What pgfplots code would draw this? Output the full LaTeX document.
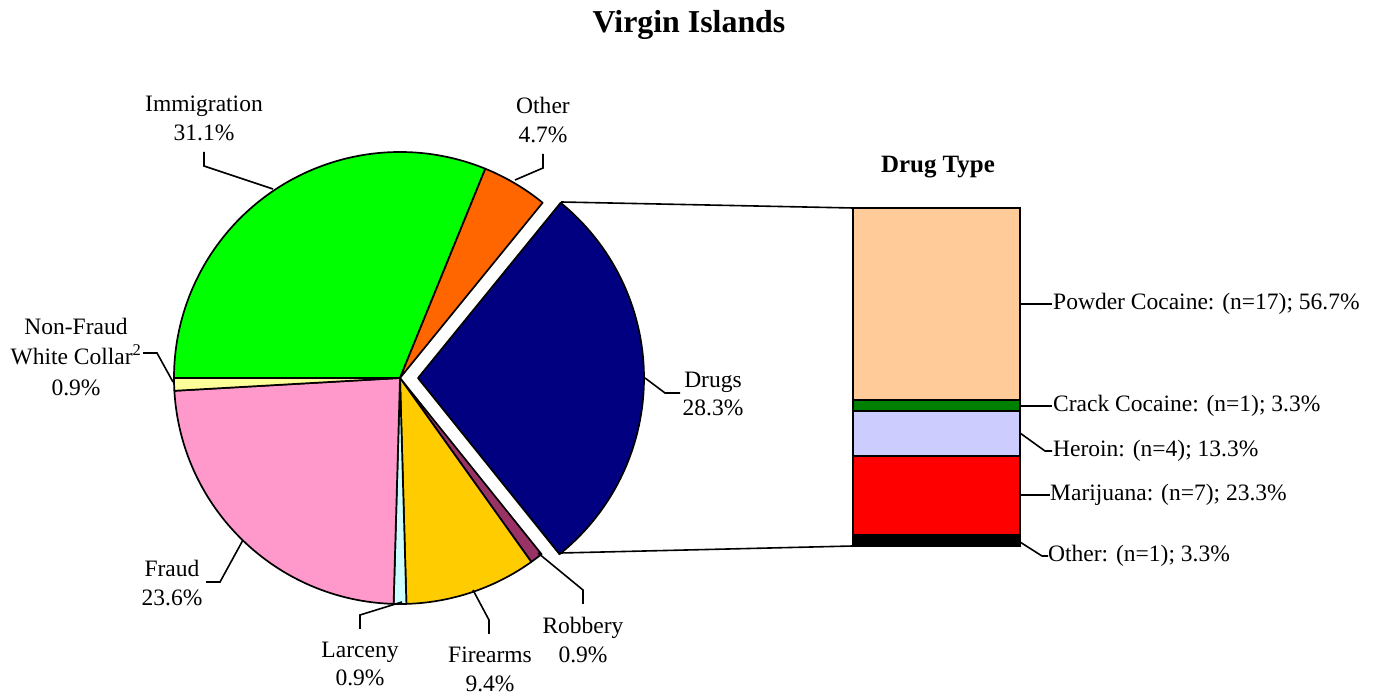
\documentclass[border=0pt]{standalone}
\usepackage{pgfplots}
\pgfplotsset{compat=1.18}
\usepackage{fontspec}
\setmainfont{Liberation Serif}

\definecolor{cImm}{RGB}{0,255,0}
\definecolor{cOth}{RGB}{255,102,0}
\definecolor{cDrug}{RGB}{0,0,128}
\definecolor{cRob}{RGB}{153,51,102}
\definecolor{cFire}{RGB}{255,204,0}
\definecolor{cLarc}{RGB}{204,255,255}
\definecolor{cFraud}{RGB}{255,153,204}
\definecolor{cNFWC}{RGB}{255,255,153}
\definecolor{cPowder}{RGB}{255,204,153}
\definecolor{cCrack}{RGB}{0,128,0}
\definecolor{cHeroin}{RGB}{204,204,255}
\definecolor{cMarij}{RGB}{255,0,0}
\newcommand\lbl{\fontsize{23.6}{29}\selectfont}

\begin{document}
\begin{tikzpicture}
\useasboundingbox (0,0) rectangle (1382bp,695bp);
\begin{axis}[at={(0,0)}, anchor=south west, width=1382bp, height=695bp,
  scale only axis, xmin=0, xmax=1382, ymin=0, ymax=695, hide axis, clip=false]
\gdef\cum{180}
\foreach \v/\c/\o in {31.1/cImm/0, 4.7/cOth/0, 28.3/cDrug/18, 0.9/cRob/0,
   9.4/cFire/0, 0.9/cLarc/0, 23.6/cFraud/0, 0.9/cNFWC/0}{
  \pgfmathsetmacro\e{\cum-\v*360/99.8}
  \pgfmathsetmacro\m{(\cum+\e)/2}
  \pgfmathsetmacro\cx{400+\o*cos(\m)}
  \pgfmathsetmacro\cy{317+\o*sin(\m)}
  \edef\tmp{\noexpand\filldraw[fill=\c, draw=black, line width=1.7bp, line join=round]
    (axis cs:\cx,\cy) -- ++(\cum:226bp) arc[start angle=\cum, end angle=\e, radius=226bp] -- cycle;}
  \tmp
  \xdef\cum{\e}
}
% connectors to bar
\draw[line width=1.6bp] (axis cs:561,493) -- (axis cs:853,487);
\draw[line width=1.6bp] (axis cs:561,142) -- (axis cs:853,149);
% leader lines
\begin{scope}[line width=1.6bp]
\draw (axis cs:204,543) -- (axis cs:204,529) -- (axis cs:273,506);
\draw (axis cs:543,541) -- (axis cs:543,527) -- (axis cs:515,515);
\draw (axis cs:143,342) -- (axis cs:157,342) -- (axis cs:173,313);
\draw (axis cs:206,113) -- (axis cs:220,113) -- (axis cs:243,155);
\draw (axis cs:360,66) -- (axis cs:360,80) -- (axis cs:402,93);
\draw (axis cs:489,61) -- (axis cs:489,75) -- (axis cs:473,105);
\draw (axis cs:583,91) -- (axis cs:583,105) -- (axis cs:538,142);
\draw (axis cs:645,317) -- (axis cs:665,302) -- (axis cs:680,302);
\draw (axis cs:1020,391) -- (axis cs:1052,391);
\draw (axis cs:1020,289) -- (axis cs:1052,289);
\draw (axis cs:1020,262) -- (axis cs:1045,244) -- (axis cs:1052,244);
\draw (axis cs:1020,200) -- (axis cs:1050,200);
\draw (axis cs:1020,153) -- (axis cs:1042,139) -- (axis cs:1048,139);
\end{scope}
% labels
\node[font=\fontsize{32}{38}\selectfont\bfseries] at (axis cs:689,670) {Virgin Islands};
\node[font=\fontsize{25}{30}\selectfont\bfseries] at (axis cs:938,528) {Drug Type};
\begin{scope}[every node/.style={align=center, inner sep=0pt, font=\lbl}]
\node at (axis cs:204,577) {Immigration\\31.1\%};
\node at (axis cs:543,575) {Other\\4.7\%};
\node at (axis cs:713,301) {Drugs\\28.3\%};
\node[font=\fontsize{23.6}{30.5}\selectfont] at (axis cs:76,338) {Non-Fraud\\White Collar\textsuperscript{2}\\0.9\%};
\node at (axis cs:172,112) {Fraud\\23.6\%};
\node at (axis cs:360,31) {Larceny\\0.9\%};
\node at (axis cs:490,26) {Firearms\\9.4\%};
\node at (axis cs:583,55) {Robbery\\0.9\%};
\node[anchor=west] at (axis cs:1053,391) {Powder Cocaine: (n=17); 56.7\%};
\node[anchor=west] at (axis cs:1053,289) {Crack Cocaine: (n=1); 3.3\%};
\node[anchor=west] at (axis cs:1053,244) {Heroin: (n=4); 13.3\%};
\node[anchor=west] at (axis cs:1050,200) {Marijuana: (n=7); 23.3\%};
\node[anchor=west] at (axis cs:1048,139) {Other: (n=1); 3.3\%};
\end{scope}
\end{axis}
\begin{axis}[at={(853bp,149bp)}, anchor=south west, width=167bp, height=338bp,
  scale only axis, xmin=0, xmax=1, ymin=0, ymax=99.9, hide axis, clip=false,
  ybar stacked, bar width=167bp]
\addplot[fill=black, draw=black, line width=1.7bp] coordinates {(0.5,3.3)};
\addplot[fill=cMarij, draw=black, line width=1.7bp] coordinates {(0.5,23.3)};
\addplot[fill=cHeroin, draw=black, line width=1.7bp] coordinates {(0.5,13.3)};
\addplot[fill=cCrack, draw=black, line width=1.7bp] coordinates {(0.5,3.3)};
\addplot[fill=cPowder, draw=black, line width=1.7bp] coordinates {(0.5,56.7)};
\end{axis}
\end{tikzpicture}
\end{document}
